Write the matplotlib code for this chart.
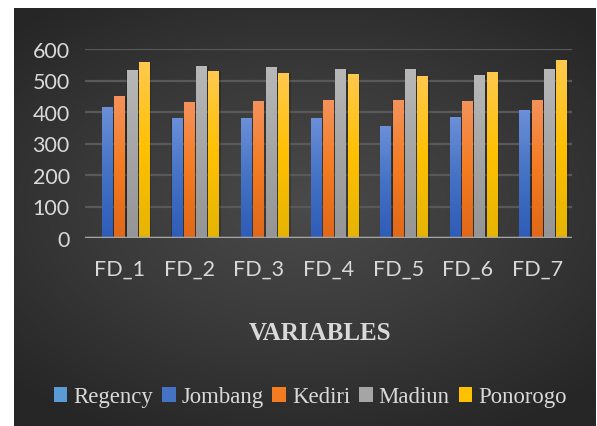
import numpy as np
import matplotlib.pyplot as plt
from matplotlib.colors import LinearSegmentedColormap
from matplotlib.patches import Patch

categories = ['FD_1', 'FD_2', 'FD_3', 'FD_4', 'FD_5', 'FD_6', 'FD_7']
series = ['Regency', 'Jombang', 'Kediri', 'Madiun', 'Ponorogo']
regency = [0, 0, 0, 0, 0, 0, 0]
jombang = [413, 378, 378, 378, 353, 384, 406]
kediri = [449, 429, 432, 435, 435, 432, 438]
madiun = [531, 546, 540, 534, 534, 515, 534]
ponorogo = [556, 530, 521, 518, 512, 524, 562]
yticks = [0, 100, 200, 300, 400, 500, 600]

# top / middle / bottom colours for each series gradient
grads = {
    'Regency': ['#7fb4e6', '#5b9bd5', '#4a88c7'],
    'Jombang': ['#6b8fd8', '#4472c4', '#2e5cb8'],
    'Kediri': ['#f4925a', '#f47b20', '#e06818'],
    'Madiun': ['#b8b8b8', '#a5a5a5', '#959595'],
    'Ponorogo': ['#ffc94d', '#ffc000', '#e6b400'],
}
values = [regency, jombang, kediri, madiun, ponorogo]

fig = plt.figure(figsize=(5.97, 4.27), dpi=100)
fig.patch.set_facecolor('white')

# dark panel with a soft radial highlight
bg = fig.add_axes([14 / 597, 0, 582 / 597, 1 - 9 / 427])
bg.set_axis_off()
yy, xx = np.mgrid[-1:1:300j, -1:1:400j]
r = np.sqrt((xx * 0.95) ** 2 + ((yy + 0.05) * 1.1) ** 2)
r = np.clip(r / 1.35, 0, 1)
bg_cmap = LinearSegmentedColormap.from_list('bg', ['#4a4a4a', '#3a3a3a', '#262626'])
bg.imshow(r, cmap=bg_cmap, aspect='auto', extent=[0, 1, 0, 1], vmin=0, vmax=1)
bg.set_xlim(0, 1)
bg.set_ylim(0, 1)

ax = fig.add_axes([85 / 597, 1 - 239 / 427, 487 / 597, 189 / 427])
ax.set_facecolor('none')

x = np.arange(len(categories))
slot = 0.177
bw = 0.158
for i, (name, vals) in enumerate(zip(series, values)):
    offs = (i - 2) * slot
    bars = ax.bar(x + offs, vals, bw, color='none', zorder=3)
    cm = LinearSegmentedColormap.from_list(name, grads[name][::-1])
    grad = np.linspace(0, 1, 64).reshape(-1, 1)
    for b in bars:
        h = b.get_height()
        if h <= 0:
            continue
        x0 = b.get_x()
        w = b.get_width()
        # soft shadow behind each bar
        ax.bar(x0 + w / 2 + 0.01, h, w * 1.15, bottom=0, color='black', alpha=0.18, zorder=2)
        ax.imshow(grad, cmap=cm, aspect='auto', origin='lower',
                  extent=[x0, x0 + w, 0, h], zorder=3)

ax.set_xlim(-0.5, len(categories) - 0.5)
ax.set_ylim(0, 600)
ax.set_yticks(yticks)
ax.set_xticks(x)
ax.set_xticklabels(categories)
ax.grid(axis='y', color='#595959', linewidth=1.6, zorder=1)
ax.axhline(0, color='#a6a6a6', linewidth=2.5, zorder=4)
for s in ax.spines.values():
    s.set_visible(False)
ax.tick_params(length=0, colors='#d9d9d9', labelsize=15.5, pad=11)
ax.tick_params(axis='x', labelsize=15.5, pad=15)
for lab in ax.get_xticklabels() + ax.get_yticklabels():
    lab.set_family('Lato')

fig.text(320 / 597, 1 - 334 / 427, 'VARIABLES', ha='center', va='center',
         family='Liberation Serif', fontweight='bold', fontsize=18, color='#d9d9d9')

handles = [Patch(facecolor=grads[n][1], edgecolor='none') for n in series]
fig.legend(handles, series, loc='center', bbox_to_anchor=(310 / 597, 1 - 398 / 427),
           ncol=5, frameon=False, handlelength=0.6, handleheight=0.6,
           handletextpad=0.25, columnspacing=0.4,
           prop={'family': 'Liberation Serif', 'size': 16.4}, labelcolor='#d9d9d9')

fig.savefig('out.png', dpi=100, facecolor='white')
